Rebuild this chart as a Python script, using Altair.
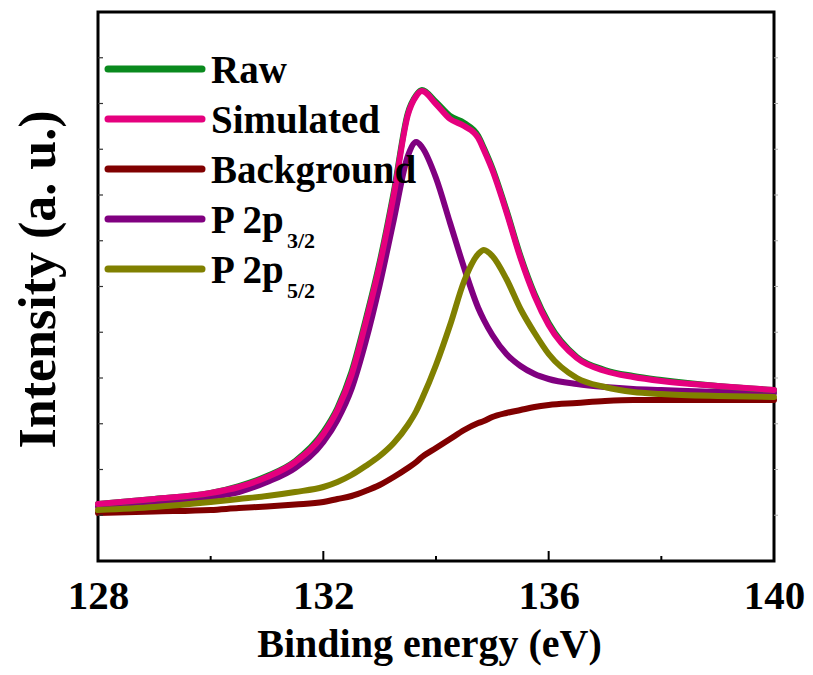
import altair as alt
import pandas as pd

# ---- data (binding energy in eV, intensity in a.u.) ----
energy = [128, 129, 130, 130.5, 131, 131.5, 132, 132.25, 132.5, 132.75, 133, 133.25,
          133.5, 133.65, 133.75, 134, 134.25, 134.5, 134.75, 134.85, 135, 135.25, 135.5,
          135.75, 136, 136.5, 137, 137.5, 138, 139, 140]
raw = [57, 62, 68, 75, 85, 100, 129, 153, 189, 241, 299, 369, 448, 466, 471, 459, 445,
       438, 425, 413, 393, 351, 305, 267, 238, 204, 191, 185, 181, 175, 171]
simulated = [57, 62, 68, 74, 84, 99, 127, 151, 186, 238, 296, 366, 446, 465, 470, 457,
             442, 435, 423, 411, 391, 349, 303, 265, 236, 203, 190, 184, 180, 175, 171]
background = [48, 49.5, 51, 53, 54.5, 56.5, 59, 62, 65, 70, 76, 84, 93, 99, 104, 113,
              122, 131, 138, 140, 144, 148, 151, 154, 156, 158, 160, 161, 161, 161, 161]
p2p32 = [54, 58, 64, 69, 79, 93, 119, 141, 172, 219, 276, 341, 405, 419, 414, 383, 338,
         293, 253, 241, 226, 207, 195, 187, 182, 177, 174, 172, 171, 169, 168]
p2p52 = [51, 54, 59, 62, 65, 69, 74, 79, 86, 95, 105, 118, 136, 150, 162, 196, 236, 280,
         307, 311, 305, 282, 252, 228, 207, 183, 174, 169, 167, 165, 164]

x_labels = [128, 132, 136, 140]
x_minor = [130, 134, 138]
y_ticks = [45.75 * k for k in range(1, 12)]

legend_names = ["Raw", "Simulated", "Background", "P 2p", "P 2p"]
legend_subs = ["", "", "", "3/2", "5/2"]
colors = ["#0a8a1e", "#e5007e", "#800000", "#800080", "#808000"]

df = pd.DataFrame({"energy": energy, "raw": raw, "simulated": simulated,
                   "background": background, "p32": p2p32, "p52": p2p52})

FONT = "Liberation Serif, Times New Roman, Times, DejaVu Serif, serif"
W, H = 676, 549

xscale = alt.Scale(domain=[128, 140], nice=False, zero=False)
yscale = alt.Scale(domain=[0, 549], nice=False, zero=False)

xaxis = alt.Axis(values=x_labels, ticks=False, domain=False, grid=False,
                 labelFont=FONT, labelFontSize=41, labelFontWeight="bold",
                 labelColor="black", labelPadding=15, labelFlush=False,
                 title="Binding energy (eV)", titleFont=FONT, titleFontSize=40,
                 titleFontWeight="bold", titleColor="black",
                 titleBaseline="alphabetic", titleY=95, titleX=331)
yaxis = alt.Axis(labels=False, ticks=False, domain=False, grid=False,
                 title="Intensity (a. u.)", titleFont=FONT, titleFontSize=52,
                 titleFontWeight="bold", titleColor="black", titleAngle=270,
                 titleBaseline="alphabetic", titleX=-44, titleY=267)


def xenc(field):
    return alt.X(f"{field}:Q", scale=xscale, axis=xaxis)


def yenc(field):
    return alt.Y(f"{field}:Q", scale=yscale, axis=yaxis)


def curve(field, color):
    return alt.Chart(df).mark_line(
        color=color, strokeWidth=6, strokeCap="round", strokeJoin="round",
        interpolate="monotone"
    ).encode(x=xenc("energy"), y=yenc(field))


layers = [
    curve("background", colors[2]),
    curve("p32", colors[3]),
    curve("p52", colors[4]),
    curve("raw", colors[0]),
    curve("simulated", colors[1]),
]

# inward ticks on the bottom axis
layers.append(alt.Chart(pd.DataFrame({"t": x_labels})).mark_rule(
    color="black", strokeWidth=2).encode(
    x=xenc("t"), y=alt.value(H), y2=alt.value(H - 10)))
layers.append(alt.Chart(pd.DataFrame({"t": x_minor})).mark_rule(
    color="black", strokeWidth=2).encode(
    x=xenc("t"), y=alt.value(H), y2=alt.value(H - 5)))
# small ticks on the left (inward) and right (outward)
layers.append(alt.Chart(pd.DataFrame({"v": y_ticks})).mark_rule(
    color="#333333", strokeWidth=1.2).encode(
    y=yenc("v"), x=alt.value(0), x2=alt.value(5)))
layers.append(alt.Chart(pd.DataFrame({"v": y_ticks})).mark_rule(
    color="#aaaaaa", strokeWidth=1).encode(
    y=yenc("v"), x=alt.value(W), x2=alt.value(W + 4)))

# legend drawn by hand (needed for the subscripts)
one = pd.DataFrame({"a": [0]})
for i, (name, sub, col) in enumerate(zip(legend_names, legend_subs, colors)):
    ly = 57 + i * 50
    layers.append(alt.Chart(one).mark_rule(
        color=col, strokeWidth=7, strokeCap="round").encode(
        x=alt.value(10), x2=alt.value(104), y=alt.value(ly)))
    layers.append(alt.Chart(one).mark_text(
        align="left", baseline="alphabetic", font=FONT, fontSize=39,
        fontWeight="bold", color="black").encode(
        x=alt.value(113), y=alt.value(ly + 14), text=alt.value(name)))
    if sub:
        layers.append(alt.Chart(one).mark_text(
            align="left", baseline="alphabetic", font=FONT, fontSize=22,
            fontWeight="bold", color="black").encode(
            x=alt.value(189), y=alt.value(ly + 29), text=alt.value(sub)))

chart = alt.layer(*layers).properties(
    width=W, height=H,
    autosize=alt.AutoSizeParams(type="none"),
    padding={"left": 90, "top": 4, "right": 31, "bottom": 106},
    background="white",
).configure_view(stroke="black", strokeWidth=3)

chart.save("out.html", embed_options={"renderer": "svg", "actions": False})
